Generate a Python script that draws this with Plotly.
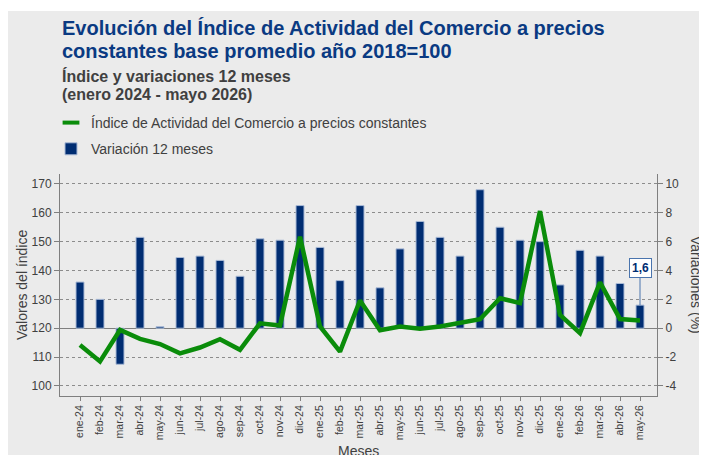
import plotly.graph_objects as go

# ---- data ----
meses = ["ene-24", "feb-24", "mar-24", "abr-24", "may-24", "jun-24", "jul-24", "ago-24",
         "sep-24", "oct-24", "nov-24", "dic-24", "ene-25", "feb-25", "mar-25", "abr-25",
         "may-25", "jun-25", "jul-25", "ago-25", "sep-25", "oct-25", "nov-25", "dic-25",
         "ene-26", "feb-26", "mar-26", "abr-26", "may-26"]
variacion_12m = [3.2, 2.0, -2.5, 6.3, 0.1, 4.9, 5.0, 4.7,
                 3.6, 6.2, 6.1, 8.5, 5.6, 3.3, 8.5, 2.8,
                 5.5, 7.4, 6.3, 5.0, 9.6, 7.0, 6.1, 6.0,
                 3.0, 5.4, 5.0, 3.1, 1.6]
indice = [114.2, 108.5, 119.4, 116.3, 114.5, 111.3, 113.3, 116.2,
          112.5, 121.7, 120.9, 151.7, 120.6, 111.9, 129.6, 119.3,
          120.6, 119.8, 120.6, 122.0, 123.1, 130.4, 128.7, 160.6,
          124.6, 118.3, 135.9, 123.2, 122.7]
left_ticks = [100, 110, 120, 130, 140, 150, 160, 170]
right_ticks = [-4, -2, 0, 2, 4, 6, 8, 10]
ultimo_label = "1,6"

NAVY = "#002d72"
GREEN = "#0a8c0a"
TITLE_BLUE = "#0a3a82"
GREY_TXT = "#404040"
FONT = "Liberation Sans, Arial, sans-serif"

fig = go.Figure()

fig.add_trace(go.Bar(
    x=meses, y=variacion_12m, name="Variación 12 meses",
    marker=dict(color=NAVY, line=dict(color="#a9bad6", width=1)),
    width=0.4, yaxis="y", legendrank=2, legendgroup="b",
    hoverinfo="x+y",
))
fig.add_trace(go.Scatter(
    x=meses, y=indice, mode="lines", name="Índice de Actividad del Comercio a precios constantes",
    line=dict(color=GREEN, width=4.5), yaxis="y2", showlegend=False, legendgroup="a",
))
# legend-only symbol for the line series (short dash)
fig.add_trace(go.Scatter(
    x=[None], y=[None], mode="markers",
    name="Índice de Actividad del Comercio a precios constantes",
    marker=dict(symbol="line-ew", size=12, line=dict(width=4, color=GREEN), color=GREEN),
    yaxis="y2", legendrank=1, legendgroup="a",
))

# page body has an 8px margin: figure is 8px smaller and offset by 8px
OFF = 8
W, H = 707 - OFF, 455 - OFF
L, R, T, B = 60 - OFF, 50, 174 - OFF, 59
pw, ph = W - L - R, H - T - B


def px_x(px):
    # px: pixel x in the final 707x455 picture
    return (px - OFF - L) / pw


def px_y(py):
    return (H - B - (py - OFF)) / ph


fig.update_layout(
    width=W, height=H,
    margin=dict(l=L, r=R, t=T, b=B, autoexpand=False),
    paper_bgcolor="white",
    plot_bgcolor="#ebebeb",
    font=dict(family=FONT, color=GREY_TXT, size=12),
    showlegend=True,
    legend=dict(
        x=px_x(51), y=px_y(107), xanchor="left", yanchor="top",
        orientation="v", bgcolor="rgba(0,0,0,0)",
        font=dict(family=FONT, size=14, color=GREY_TXT),
        tracegroupgap=5, traceorder="grouped",
    ),
    xaxis=dict(
        type="category", categoryorder="array", categoryarray=meses,
        range=[-1, 28.85], tickangle=-90,
        showline=True, linecolor="#7f7f7f", linewidth=1,
        ticks="outside", ticklen=4, tickcolor="#7f7f7f",
        tickfont=dict(family=FONT, size=10.5, color=GREY_TXT),
        showgrid=False, zeroline=False,
    ),
    yaxis=dict(
        side="right", range=[-4.7, 10.69],
        tickvals=right_ticks, ticktext=[str(v) for v in right_ticks],
        showline=True, linecolor="#7f7f7f", linewidth=1,
        ticks="outside", ticklen=5, tickcolor="#7f7f7f",
        tickfont=dict(family=FONT, size=12, color=GREY_TXT),
        showgrid=True, gridcolor="#8c8c8c", gridwidth=1, griddash="3px,3px",
        zeroline=True, zerolinecolor="#7f7f7f", zerolinewidth=1,
    ),
    yaxis2=dict(
        side="left", overlaying="y", range=[96.5, 173.45],
        tickvals=left_ticks, ticktext=[str(v) for v in left_ticks],
        showline=True, linecolor="#7f7f7f", linewidth=1,
        ticks="outside", ticklen=5, tickcolor="#7f7f7f",
        tickfont=dict(family=FONT, size=12, color=GREY_TXT),
        showgrid=False, zeroline=False,
    ),
)

# grey panel behind everything
fig.add_shape(type="rect", xref="paper", yref="paper",
              x0=px_x(7), x1=px_x(720), y0=px_y(470), y1=px_y(11),
              fillcolor="#ebebeb", line=dict(width=0), layer="below")

annots = [
    dict(text="<b>Evolución del Índice de Actividad del Comercio a precios</b>",
         x=px_x(60), y=px_y(28), size=20, color=TITLE_BLUE),
    dict(text="<b>constantes base promedio año 2018=100</b>",
         x=px_x(60), y=px_y(50.7), size=20, color=TITLE_BLUE),
    dict(text="<b>Índice y variaciones 12 meses</b>",
         x=px_x(60), y=px_y(75.5), size=16, color=GREY_TXT),
    dict(text="<b>(enero 2024 - mayo 2026)</b>",
         x=px_x(60), y=px_y(94.5), size=16, color=GREY_TXT),
]
for a in annots:
    fig.add_annotation(text=a["text"], xref="paper", yref="paper", x=a["x"], y=a["y"],
                       xanchor="left", yanchor="middle", showarrow=False,
                       font=dict(family=FONT, size=a["size"], color=a["color"]))

# axis titles
fig.add_annotation(text="Valores del índice", xref="paper", yref="paper",
                   x=px_x(22), y=0.5, textangle=-90, showarrow=False,
                   xanchor="center", yanchor="middle",
                   font=dict(family=FONT, size=14, color=GREY_TXT))
fig.add_annotation(text="Variaciones (%)", xref="paper", yref="paper",
                   x=px_x(696), y=0.5, textangle=90, showarrow=False,
                   xanchor="center", yanchor="middle",
                   font=dict(family=FONT, size=14, color=GREY_TXT))
fig.add_annotation(text="Meses", xref="paper", yref="paper",
                   x=0.5, y=px_y(451), showarrow=False,
                   xanchor="center", yanchor="middle",
                   font=dict(family=FONT, size=14, color=GREY_TXT))

# last value label
fig.add_annotation(text="<b>" + ultimo_label + "</b>", x=meses[-1], y=variacion_12m[-1],
                   xref="x", yref="y", showarrow=True, arrowhead=0, arrowwidth=1,
                   arrowcolor="#4a74ad", ax=0, ay=-37,
                   bgcolor="white", bordercolor="#4a74ad", borderwidth=1, borderpad=2,
                   font=dict(family=FONT, size=12, color=NAVY))

fig.write_html("out.html")
